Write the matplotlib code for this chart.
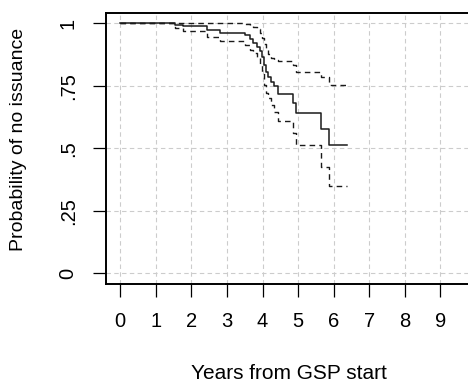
import matplotlib.pyplot as plt

plt.rcParams['font.family'] = ['Liberation Sans', 'DejaVu Sans']

# Kaplan-Meier estimate of "no issuance" with 95% CI
times = [0, 1.54, 1.77, 2.43, 2.80, 3.51, 3.65, 3.74, 3.84, 3.93, 3.99,
         4.05, 4.10, 4.15, 4.24, 4.31, 4.44, 4.85, 4.94, 5.64, 5.88, 6.37]
surv = [1.0, 0.993, 0.988, 0.972, 0.962, 0.952, 0.937, 0.922, 0.907, 0.889, 0.867,
        0.835, 0.807, 0.785, 0.765, 0.748, 0.718, 0.681, 0.643, 0.579, 0.514, 0.514]
upper = [1.0, 1.0, 1.0, 1.0, 1.0, 0.997, 0.99, 0.985, 0.978, 0.961, 0.941,
         0.916, 0.896, 0.877, 0.861, 0.852, 0.848, 0.834, 0.805, 0.787, 0.754, 0.754]
lower = [1.0, 0.983, 0.968, 0.945, 0.930, 0.914, 0.894, 0.880, 0.867, 0.835, 0.801,
         0.754, 0.721, 0.700, 0.674, 0.647, 0.610, 0.563, 0.514, 0.427, 0.350, 0.350]

xticks = list(range(10))
yticks = [0, 0.25, 0.5, 0.75, 1]
ylabels = ['0', '.25', '.5', '.75', '1']

fig = plt.figure(figsize=(4.68, 3.83), dpi=100)
ax = fig.add_axes([106 / 468, 1 - 284 / 383, 1 - 106 / 468, (284 - 13) / 383])

ax.step(times, surv, where='post', color='#1a1a1a', lw=1.1)
ax.step(times, upper, where='post', color='#1a1a1a', lw=1.0, linestyle=(0, (4, 3)))
ax.step(times, lower, where='post', color='#1a1a1a', lw=1.0, linestyle=(0, (4, 3)))

ax.set_xlim(-0.402, 9.78)
ax.set_ylim(-0.043, 1.042)

ax.set_xticks(xticks)
ax.set_yticks(yticks)
ax.set_yticklabels(ylabels, rotation=90, va='center')
ax.tick_params(axis='both', length=9.4, width=0.9, pad=11, labelsize=14.5, colors='black')

ax.grid(True, color='#cccccc', linestyle=(0, (4, 3)), linewidth=0.8)
ax.set_axisbelow(True)

for side in ['left', 'bottom', 'top']:
    ax.spines[side].set_linewidth(1.4)
ax.spines['right'].set_visible(False)

ax.set_xlabel('Years from GSP start', fontsize=15)
ax.xaxis.set_label_coords(0.506, -0.295)
ax.set_ylabel('Probability of no issuance', fontsize=14)
ax.yaxis.set_label_coords(-0.218, 0.535)

fig.savefig('out.png', dpi=100)
